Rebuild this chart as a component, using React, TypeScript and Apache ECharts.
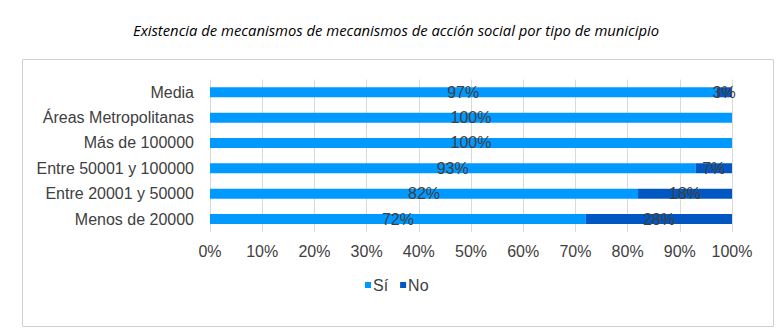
import React, { useEffect, useRef } from "react";
import * as echarts from "echarts";

const categories = [
  "Media",
  "Áreas Metropolitanas",
  "Más de 100000",
  "Entre 50001 y 100000",
  "Entre 20001 y 50000",
  "Menos de 20000",
];
const siValues = [97, 100, 100, 93, 82, 72];
const noValues = [3, 0, 0, 7, 18, 28];
const xTicks = [0, 10, 20, 30, 40, 50, 60, 70, 80, 90, 100];

const FONT = "Liberation Sans, Arial, sans-serif";

export default function App() {
  const ref = useRef<HTMLDivElement>(null);
  useEffect(() => {
    document.body.style.margin = "0";
    const chart = echarts.init(ref.current!, null, { renderer: "svg" });
    const labelStyle = {
      show: true,
      position: "inside",
      color: "#404040",
      fontFamily: FONT,
      fontSize: 16,
      formatter: (p: any) => (p.value > 0 ? p.value + "%" : ""),
    };
    chart.setOption({
      animation: false,
      title: {
        text: "Existencia de mecanismos de mecanismos de acción social por tipo de municipio",
        left: 128,
        top: 17,
        textStyle: {
          fontStyle: "italic",
          fontWeight: "normal",
          fontSize: 14.8,
          color: "#000",
          fontFamily: "Open Sans, sans-serif",
        },
      },
      graphic: [
        {
          type: "rect",
          shape: { x: 22.5, y: 59.5, width: 751, height: 267 },
          style: { fill: "none", stroke: "#d0d0d0", lineWidth: 1 },
          silent: true,
        },
      ],
      legend: {
        data: ["Sí", "No"],
        left: 360,
        top: 272,
        itemWidth: 6,
        itemHeight: 6,
        itemGap: 12,
        icon: "rect",
        textStyle: {
          fontSize: 16,
          color: "#404040",
          fontFamily: FONT,
          padding: [0, 0, 0, -3],
        },
      },
      grid: { left: 210, right: 52, top: 79.6, bottom: 103.3 },
      xAxis: {
        type: "value",
        min: 0,
        max: 100,
        interval: 10,
        axisLine: { show: false },
        axisTick: { show: false },
        splitLine: { lineStyle: { color: "#d9d9d9" } },
        axisLabel: {
          margin: 12,
          color: "#404040",
          fontSize: 16,
          fontFamily: FONT,
          formatter: (v: number) => (xTicks.includes(v) ? v + "%" : ""),
        },
      },
      yAxis: {
        type: "category",
        data: categories,
        inverse: true,
        axisLine: { show: false },
        axisTick: { show: false },
        axisLabel: {
          margin: 16,
          color: "#404040",
          fontSize: 16,
          fontFamily: FONT,
        },
      },
      series: [
        {
          name: "Sí",
          type: "bar",
          stack: "total",
          data: siValues,
          barWidth: 10,
          itemStyle: { color: "#0099FF" },
          label: labelStyle,
        },
        {
          name: "No",
          type: "bar",
          stack: "total",
          data: noValues,
          barWidth: 10,
          itemStyle: { color: "#0057C2" },
          label: labelStyle,
        },
      ],
    });
    return () => chart.dispose();
  }, []);
  return <div ref={ref} style={{ width: 784, height: 335 }} />;
}
